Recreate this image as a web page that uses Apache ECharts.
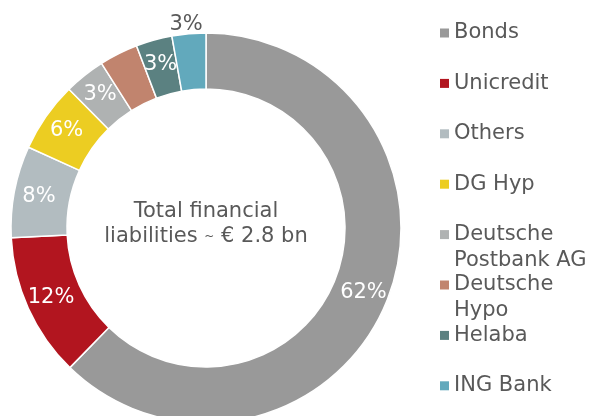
<!DOCTYPE html>
<html><head><meta charset="utf-8">
<script src="https://cdn.jsdelivr.net/npm/echarts@6/dist/echarts.min.js"></script>
<style>html,body{margin:0;padding:0;background:#fff}#c{width:594px;height:416px}</style>
</head><body><div id="c"></div>
<script>
var names = ['Bonds','Unicredit','Others','DG Hyp','Deutsche Postbank AG','Deutsche Hypo','Helaba','ING Bank'];
var legendLabels = ['Bonds','Unicredit','Others','DG Hyp','Deutsche\nPostbank AG','Deutsche\nHypo','Helaba','ING Bank'];
var values = [62.3, 11.9, 7.6, 5.8, 3.4, 3.2, 3.0, 2.8];
var colors = ['#999999','#B2151F','#B2BCC0','#ECCD22','#AFB2B2','#C1846E','#5B8181','#62A9BC'];
var FONT = 'DejaVu Sans, Verdana, sans-serif';
var TXT = '#595959';

var data = names.map(function(n,i){
  var d = {name:n, value:values[i], itemStyle:{color:colors[i]}};
  if (i === names.length-1) {
    d.label = {color:TXT, offset:[-5,-34]};
  }
  return d;
});

var legends = names.map(function(n,i){
  var lbl = legendLabels[i];
  var txt = ' \n' + lbl + (lbl.indexOf('\n') >= 0 ? '' : '\n ');
  return {
    data:[n], orient:'vertical', left:440, top:-6 + i*50.4, padding:0,
    itemWidth:9, itemHeight:9, icon:'rect', selectedMode:false,
    itemStyle:{borderWidth:0},
    formatter:function(){ return txt; },
    textStyle:{color:TXT, fontSize:21, fontFamily:FONT, lineHeight:26}
  };
});

var chart = echarts.init(document.getElementById('c'), null, {renderer:'canvas'});
chart.setOption({
  animation:false,
  backgroundColor:'#ffffff',
  title:{
    text:'Total financial\nliabilities {t|~} € 2.8 bn',
    left:206, top:199, textAlign:'center', padding:0,
    textStyle:{color:TXT, fontSize:21, fontWeight:'normal', fontFamily:FONT, lineHeight:25,
      rich:{t:{fontSize:12, color:TXT, fontFamily:FONT, lineHeight:25}}}
  },
  legend: legends,
  series:[{
    type:'pie',
    center:[206,228],
    radius:[139,195],
    startAngle:90,
    clockwise:true,
    avoidLabelOverlap:false,
    itemStyle:{borderColor:'#ffffff', borderWidth:1.5},
    label:{show:true, position:'inside', color:'#ffffff', fontSize:21, fontFamily:FONT,
      formatter:function(p){ return Math.round(p.value) + '%'; }},
    labelLine:{show:false},
    emphasis:{disabled:true},
    data:data
  }]
});
</script></body></html>
